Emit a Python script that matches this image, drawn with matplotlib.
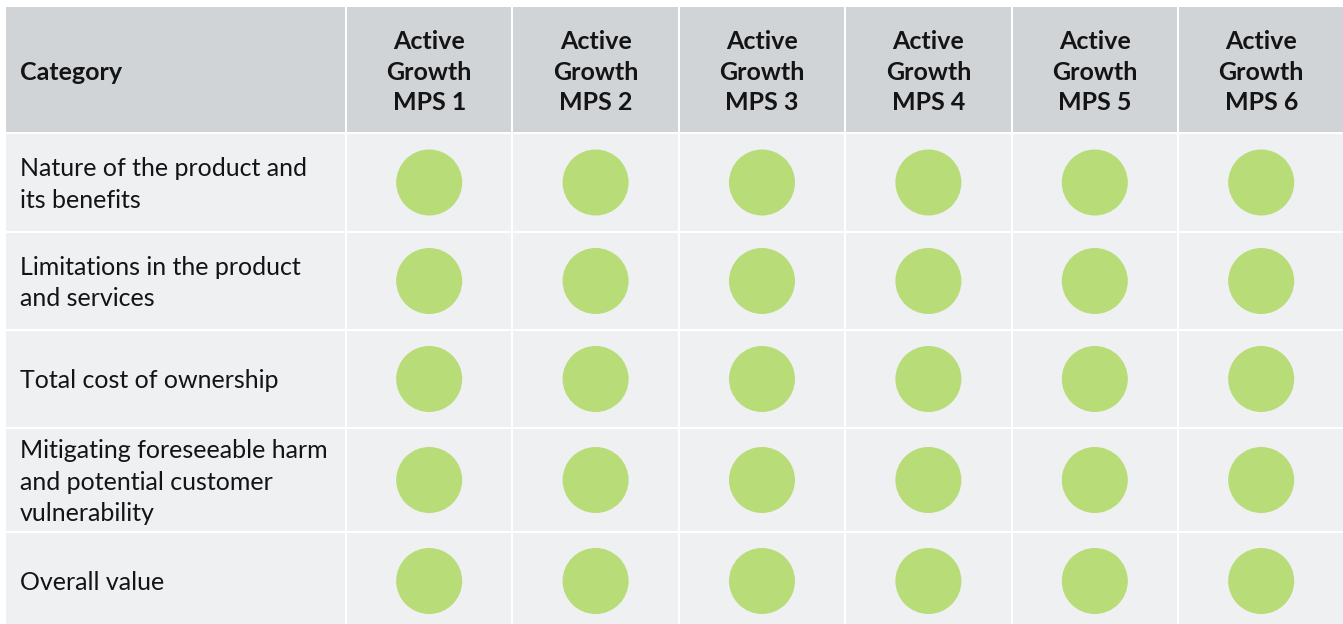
import matplotlib.pyplot as plt
from matplotlib.patches import Rectangle, Circle

categories = [
    "Nature of the product and\nits benefits",
    "Limitations in the product\nand services",
    "Total cost of ownership",
    "Mitigating foreseeable harm\nand potential customer\nvulnerability",
    "Overall value",
]
products = ["Active\nGrowth\nMPS %d" % i for i in range(1, 7)]
# 1 = green dot (meets outcome) for every product/category
ratings = [
    [1, 1, 1, 1, 1, 1],
    [1, 1, 1, 1, 1, 1],
    [1, 1, 1, 1, 1, 1],
    [1, 1, 1, 1, 1, 1],
    [1, 1, 1, 1, 1, 1],
]

W, H = 1343, 624
plt.rcParams['font.family'] = ['Lato', 'DejaVu Sans']
fig = plt.figure(figsize=(W / 100, H / 100), dpi=100)
ax = fig.add_axes([0, 0, 1, 1])
ax.set_xlim(0, W)
ax.set_ylim(H, 0)
ax.axis("off")

header_bg = "#d1d4d7"
cell_bg = "#eff0f2"
dot = "#b8dc78"
txt = "#141414"
gap = 2

x0, first_w, col_w = 6, 341, 166.4
y0, head_h = 7, 127
row_h = [99, 98, 98, 104, 98]

col_edges = [x0, x0 + first_w]
for i in range(len(products)):
    col_edges.append(col_edges[-1] + col_w)
row_edges = [y0, y0 + head_h]
for h in row_h:
    row_edges.append(row_edges[-1] + h)

# header
for c in range(len(products) + 1):
    xl, xr = col_edges[c], col_edges[c + 1] - gap
    ax.add_patch(Rectangle((xl, row_edges[0]), xr - xl, head_h - gap,
                           facecolor=header_bg, edgecolor="none"))
    yc = row_edges[0] + (head_h - gap) / 2 + 2.5
    if c == 0:
        ax.text(xl + 14, yc, "Category", fontsize=18, fontweight="bold",
                ha="left", va="center", color=txt)
    else:
        ax.text((xl + xr) / 2, yc, products[c - 1], fontsize=18, fontweight="bold",
                ha="center", va="center", color=txt, linespacing=1.4)

# body
for r, cat in enumerate(categories):
    yt, yb = row_edges[r + 1], row_edges[r + 2] - gap
    yc = (yt + yb) / 2
    for c in range(len(products) + 1):
        xl, xr = col_edges[c], col_edges[c + 1] - gap
        ax.add_patch(Rectangle((xl, yt), xr - xl, yb - yt,
                               facecolor=cell_bg, edgecolor="none"))
        if c == 0:
            ax.text(xl + 14, yc + 2, cat, fontsize=18, ha="left", va="center",
                    color=txt, linespacing=1.45)
        elif ratings[r][c - 1]:
            ax.add_patch(Circle(((xl + xr) / 2, yc), 33, facecolor=dot,
                                edgecolor="none"))

fig.savefig("out.png", dpi=100)
